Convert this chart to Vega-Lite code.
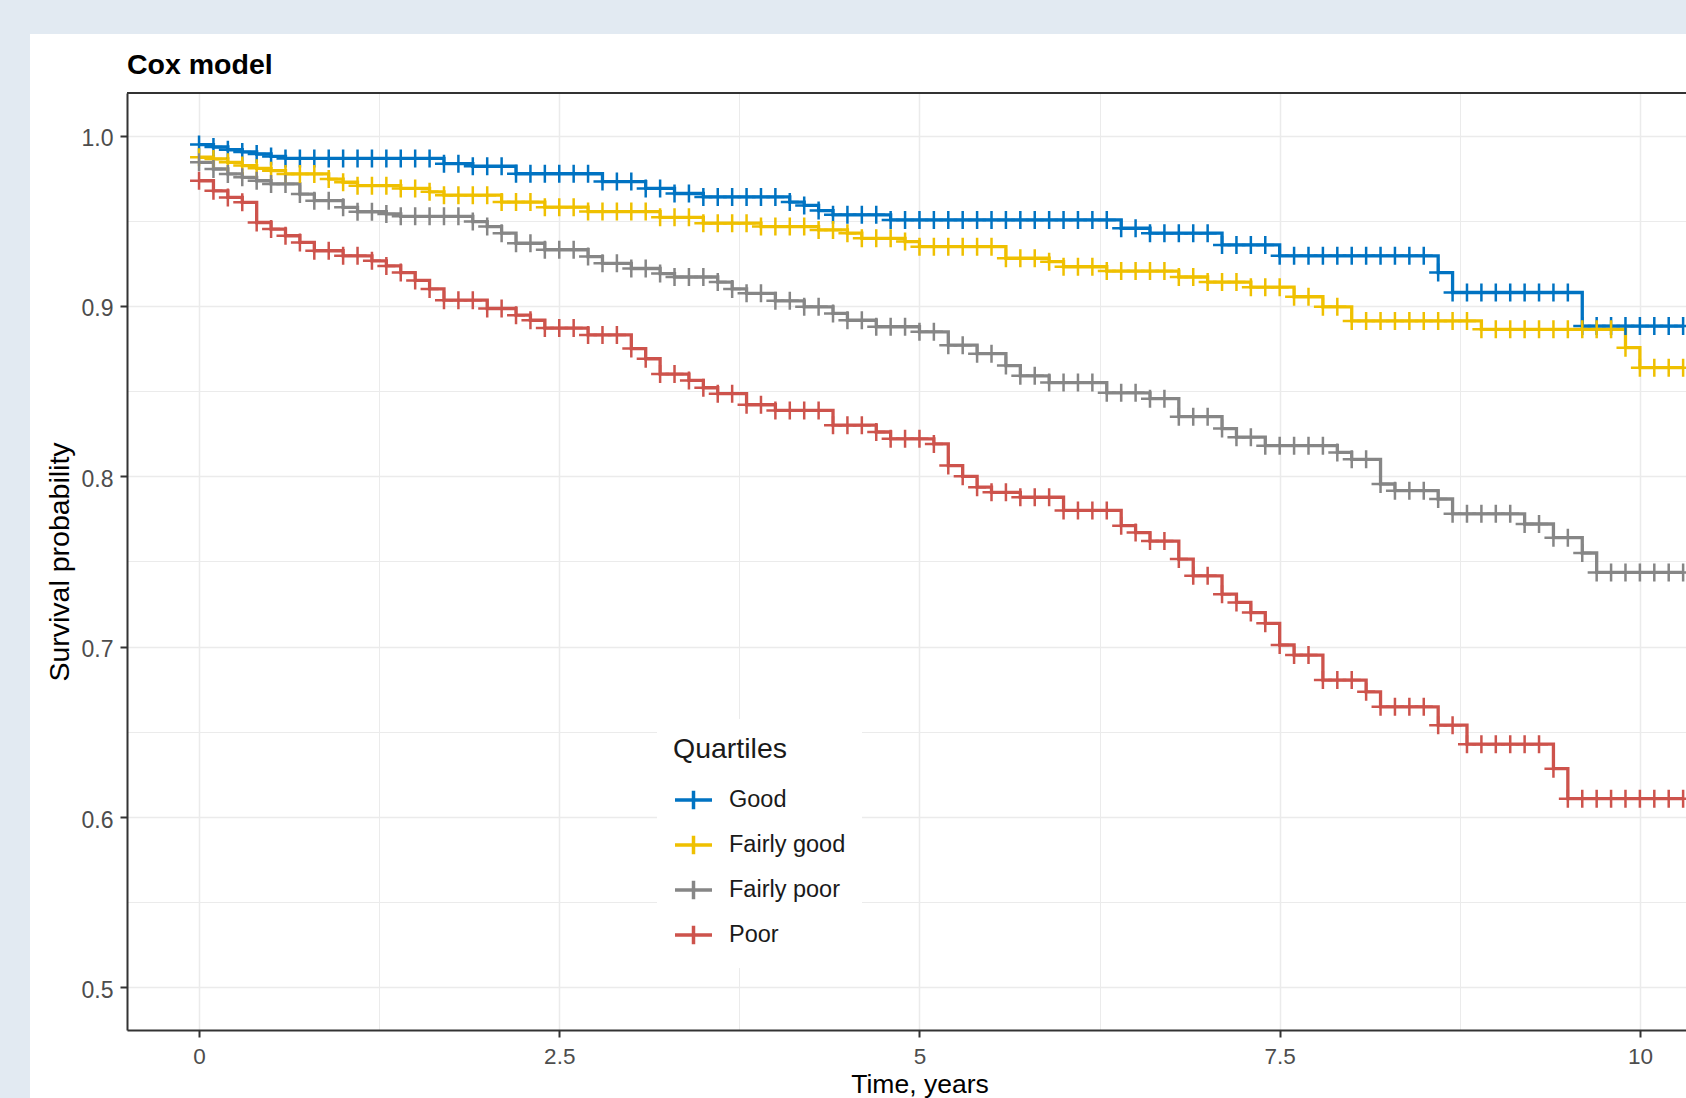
{
  "$schema": "https://vega.github.io/schema/vega-lite/v6.json",
  "width": 1559,
  "height": 937,
  "autosize": {"type": "none"},
  "padding": {"left": 127, "top": 93, "right": 0, "bottom": 68},
  "background": "white",
  "config": {"view": {"stroke": null}, "font": "Liberation Sans"},
  "title": {"text": "Cox model", "anchor": "start", "frame": "group", "fontSize": 28.5, "fontWeight": "bold", "color": "#000000", "baseline": "alphabetic", "offset": -107},
  "layer": [
    {
      "data": {"values": [{}]},
      "mark": {"type": "rect", "color": "#e2eaf2", "clip": false},
      "encoding": {
        "x": {"datum": -10, "type": "quantitative"},
        "x2": {"datum": -1.1732},
        "y": {"datum": 0.2, "type": "quantitative"},
        "y2": {"datum": 1.082}
      }
    },
    {
      "data": {"values": [{}]},
      "mark": {"type": "rect", "color": "#e2eaf2", "clip": false},
      "encoding": {
        "x": {"datum": -10, "type": "quantitative"},
        "x2": {"datum": 20},
        "y": {"datum": 1.0596, "type": "quantitative"},
        "y2": {"datum": 1.082}
      }
    },
    {
      "data": {"values": [{}]},
      "mark": {"type": "rule", "color": "#333333", "strokeWidth": 2},
      "encoding": {"y": {"datum": 1.025, "type": "quantitative"}}
    },
    {
      "data": {"values": [
        {"t":0,"Good":0.9947,"Fairly good":0.9873,"Fairly poor":0.9843,"Poor":0.9735},
        {"t":0.1,"Good":0.9933,"Fairly good":0.9863,"Fairly poor":0.9804,"Poor":0.9676},
        {"t":0.2,"Good":0.9917,"Fairly good":0.9843,"Fairly poor":0.9775,"Poor":0.9637},
        {"t":0.3,"Good":0.9904,"Fairly good":0.9824,"Fairly poor":0.9755,"Poor":0.9608},
        {"t":0.4,"Good":0.9892,"Fairly good":0.9808,"Fairly poor":0.9735,"Poor":0.949},
        {"t":0.5,"Good":0.9878,"Fairly good":0.9794,"Fairly poor":0.9716,"Poor":0.9451},
        {"t":0.6,"Good":0.9866,"Fairly good":0.9775,"Fairly poor":0.9716,"Poor":0.9412},
        {"t":0.7,"Good":0.9866,"Fairly good":0.9775,"Fairly poor":0.9657,"Poor":0.9373},
        {"t":0.8,"Good":0.9866,"Fairly good":0.9775,"Fairly poor":0.9618,"Poor":0.9324},
        {"t":0.9,"Good":0.9866,"Fairly good":0.9745,"Fairly poor":0.9618,"Poor":0.9324},
        {"t":1.0,"Good":0.9866,"Fairly good":0.9726,"Fairly poor":0.9579,"Poor":0.9294},
        {"t":1.1,"Good":0.9866,"Fairly good":0.9706,"Fairly poor":0.9553,"Poor":0.9294},
        {"t":1.2,"Good":0.9866,"Fairly good":0.9706,"Fairly poor":0.9553,"Poor":0.9265},
        {"t":1.3,"Good":0.9866,"Fairly good":0.9706,"Fairly poor":0.954,"Poor":0.9235},
        {"t":1.4,"Good":0.9866,"Fairly good":0.969,"Fairly poor":0.9526,"Poor":0.9196},
        {"t":1.5,"Good":0.9866,"Fairly good":0.969,"Fairly poor":0.9526,"Poor":0.915},
        {"t":1.6,"Good":0.9866,"Fairly good":0.967,"Fairly poor":0.9526,"Poor":0.91},
        {"t":1.7,"Good":0.9835,"Fairly good":0.965,"Fairly poor":0.9526,"Poor":0.9034},
        {"t":1.8,"Good":0.9835,"Fairly good":0.965,"Fairly poor":0.9526,"Poor":0.9034},
        {"t":1.9,"Good":0.982,"Fairly good":0.965,"Fairly poor":0.9495,"Poor":0.9034},
        {"t":2.0,"Good":0.982,"Fairly good":0.965,"Fairly poor":0.9466,"Poor":0.8985},
        {"t":2.1,"Good":0.982,"Fairly good":0.961,"Fairly poor":0.9427,"Poor":0.8985},
        {"t":2.2,"Good":0.9776,"Fairly good":0.961,"Fairly poor":0.9368,"Poor":0.8946},
        {"t":2.3,"Good":0.9776,"Fairly good":0.961,"Fairly poor":0.9368,"Poor":0.8916},
        {"t":2.4,"Good":0.9776,"Fairly good":0.958,"Fairly poor":0.933,"Poor":0.887},
        {"t":2.5,"Good":0.9776,"Fairly good":0.958,"Fairly poor":0.933,"Poor":0.887},
        {"t":2.6,"Good":0.9776,"Fairly good":0.958,"Fairly poor":0.933,"Poor":0.887},
        {"t":2.7,"Good":0.9776,"Fairly good":0.9554,"Fairly poor":0.929,"Poor":0.883},
        {"t":2.8,"Good":0.973,"Fairly good":0.9554,"Fairly poor":0.925,"Poor":0.883},
        {"t":2.9,"Good":0.973,"Fairly good":0.9554,"Fairly poor":0.925,"Poor":0.883},
        {"t":3.0,"Good":0.973,"Fairly good":0.9554,"Fairly poor":0.922,"Poor":0.875},
        {"t":3.1,"Good":0.969,"Fairly good":0.9554,"Fairly poor":0.922,"Poor":0.869},
        {"t":3.2,"Good":0.969,"Fairly good":0.952,"Fairly poor":0.919,"Poor":0.86},
        {"t":3.3,"Good":0.966,"Fairly good":0.952,"Fairly poor":0.917,"Poor":0.86},
        {"t":3.4,"Good":0.966,"Fairly good":0.952,"Fairly poor":0.917,"Poor":0.8563},
        {"t":3.5,"Good":0.964,"Fairly good":0.9486,"Fairly poor":0.917,"Poor":0.852},
        {"t":3.6,"Good":0.964,"Fairly good":0.9486,"Fairly poor":0.914,"Poor":0.8485},
        {"t":3.7,"Good":0.964,"Fairly good":0.9486,"Fairly poor":0.91,"Poor":0.8485},
        {"t":3.8,"Good":0.964,"Fairly good":0.9486,"Fairly poor":0.9074,"Poor":0.842},
        {"t":3.9,"Good":0.964,"Fairly good":0.9466,"Fairly poor":0.9074,"Poor":0.842},
        {"t":4.0,"Good":0.964,"Fairly good":0.9466,"Fairly poor":0.903,"Poor":0.8387},
        {"t":4.1,"Good":0.961,"Fairly good":0.9466,"Fairly poor":0.903,"Poor":0.8387},
        {"t":4.2,"Good":0.959,"Fairly good":0.9466,"Fairly poor":0.8995,"Poor":0.8387},
        {"t":4.3,"Good":0.956,"Fairly good":0.9446,"Fairly poor":0.8995,"Poor":0.8387},
        {"t":4.4,"Good":0.9535,"Fairly good":0.9446,"Fairly poor":0.8956,"Poor":0.83},
        {"t":4.5,"Good":0.9535,"Fairly good":0.9427,"Fairly poor":0.8916,"Poor":0.83},
        {"t":4.6,"Good":0.9535,"Fairly good":0.9397,"Fairly poor":0.8916,"Poor":0.83},
        {"t":4.7,"Good":0.9535,"Fairly good":0.9397,"Fairly poor":0.8878,"Poor":0.826},
        {"t":4.8,"Good":0.9505,"Fairly good":0.9397,"Fairly poor":0.8878,"Poor":0.822},
        {"t":4.9,"Good":0.9505,"Fairly good":0.9378,"Fairly poor":0.8878,"Poor":0.822},
        {"t":5.0,"Good":0.9505,"Fairly good":0.9348,"Fairly poor":0.8848,"Poor":0.822},
        {"t":5.1,"Good":0.9505,"Fairly good":0.9348,"Fairly poor":0.8848,"Poor":0.819},
        {"t":5.2,"Good":0.9505,"Fairly good":0.9348,"Fairly poor":0.877,"Poor":0.8063},
        {"t":5.3,"Good":0.9505,"Fairly good":0.9348,"Fairly poor":0.877,"Poor":0.8},
        {"t":5.4,"Good":0.9505,"Fairly good":0.9348,"Fairly poor":0.872,"Poor":0.7936},
        {"t":5.5,"Good":0.9505,"Fairly good":0.9348,"Fairly poor":0.872,"Poor":0.7906},
        {"t":5.6,"Good":0.9505,"Fairly good":0.928,"Fairly poor":0.865,"Poor":0.7906},
        {"t":5.7,"Good":0.9505,"Fairly good":0.928,"Fairly poor":0.859,"Poor":0.7877},
        {"t":5.8,"Good":0.9505,"Fairly good":0.928,"Fairly poor":0.859,"Poor":0.7877},
        {"t":5.9,"Good":0.9505,"Fairly good":0.926,"Fairly poor":0.855,"Poor":0.7877},
        {"t":6.0,"Good":0.9505,"Fairly good":0.923,"Fairly poor":0.855,"Poor":0.78},
        {"t":6.1,"Good":0.9505,"Fairly good":0.923,"Fairly poor":0.855,"Poor":0.78},
        {"t":6.2,"Good":0.9505,"Fairly good":0.923,"Fairly poor":0.855,"Poor":0.78},
        {"t":6.3,"Good":0.9505,"Fairly good":0.9205,"Fairly poor":0.849,"Poor":0.78},
        {"t":6.4,"Good":0.9456,"Fairly good":0.9205,"Fairly poor":0.849,"Poor":0.771},
        {"t":6.5,"Good":0.9456,"Fairly good":0.9205,"Fairly poor":0.849,"Poor":0.767},
        {"t":6.6,"Good":0.9427,"Fairly good":0.9205,"Fairly poor":0.8456,"Poor":0.762},
        {"t":6.7,"Good":0.9427,"Fairly good":0.9205,"Fairly poor":0.8456,"Poor":0.762},
        {"t":6.8,"Good":0.9427,"Fairly good":0.917,"Fairly poor":0.835,"Poor":0.7514},
        {"t":6.9,"Good":0.9427,"Fairly good":0.917,"Fairly poor":0.835,"Poor":0.7416},
        {"t":7.0,"Good":0.9427,"Fairly good":0.914,"Fairly poor":0.835,"Poor":0.7416},
        {"t":7.1,"Good":0.9358,"Fairly good":0.914,"Fairly poor":0.828,"Poor":0.7308},
        {"t":7.2,"Good":0.9358,"Fairly good":0.914,"Fairly poor":0.823,"Poor":0.726},
        {"t":7.3,"Good":0.9358,"Fairly good":0.911,"Fairly poor":0.823,"Poor":0.72},
        {"t":7.4,"Good":0.9358,"Fairly good":0.911,"Fairly poor":0.818,"Poor":0.7137},
        {"t":7.5,"Good":0.9294,"Fairly good":0.911,"Fairly poor":0.818,"Poor":0.701},
        {"t":7.6,"Good":0.9294,"Fairly good":0.9054,"Fairly poor":0.818,"Poor":0.6951},
        {"t":7.7,"Good":0.9294,"Fairly good":0.9054,"Fairly poor":0.818,"Poor":0.6951},
        {"t":7.8,"Good":0.9294,"Fairly good":0.8995,"Fairly poor":0.818,"Poor":0.6804},
        {"t":7.9,"Good":0.9294,"Fairly good":0.8995,"Fairly poor":0.814,"Poor":0.6804},
        {"t":8.0,"Good":0.9294,"Fairly good":0.8912,"Fairly poor":0.81,"Poor":0.6804},
        {"t":8.1,"Good":0.9294,"Fairly good":0.8912,"Fairly poor":0.81,"Poor":0.6735},
        {"t":8.2,"Good":0.9294,"Fairly good":0.8912,"Fairly poor":0.7955,"Poor":0.6647},
        {"t":8.3,"Good":0.9294,"Fairly good":0.8912,"Fairly poor":0.7916,"Poor":0.6647},
        {"t":8.4,"Good":0.9294,"Fairly good":0.8912,"Fairly poor":0.7916,"Poor":0.6647},
        {"t":8.5,"Good":0.9294,"Fairly good":0.8912,"Fairly poor":0.7916,"Poor":0.6647},
        {"t":8.6,"Good":0.9196,"Fairly good":0.8912,"Fairly poor":0.7867,"Poor":0.6539},
        {"t":8.7,"Good":0.9079,"Fairly good":0.8912,"Fairly poor":0.778,"Poor":0.6539},
        {"t":8.8,"Good":0.9079,"Fairly good":0.8912,"Fairly poor":0.778,"Poor":0.6428},
        {"t":8.9,"Good":0.9079,"Fairly good":0.8863,"Fairly poor":0.778,"Poor":0.6428},
        {"t":9.0,"Good":0.9079,"Fairly good":0.8863,"Fairly poor":0.778,"Poor":0.6428},
        {"t":9.1,"Good":0.9079,"Fairly good":0.8863,"Fairly poor":0.778,"Poor":0.6428},
        {"t":9.2,"Good":0.9079,"Fairly good":0.8863,"Fairly poor":0.772,"Poor":0.6428},
        {"t":9.3,"Good":0.9079,"Fairly good":0.8863,"Fairly poor":0.772,"Poor":0.6428},
        {"t":9.4,"Good":0.9079,"Fairly good":0.8863,"Fairly poor":0.764,"Poor":0.6284},
        {"t":9.5,"Good":0.9079,"Fairly good":0.8863,"Fairly poor":0.764,"Poor":0.6108},
        {"t":9.6,"Good":0.8882,"Fairly good":0.8863,"Fairly poor":0.755,"Poor":0.6108},
        {"t":9.7,"Good":0.8882,"Fairly good":0.8863,"Fairly poor":0.7436,"Poor":0.6108},
        {"t":9.8,"Good":0.8882,"Fairly good":0.8863,"Fairly poor":0.7436,"Poor":0.6108},
        {"t":9.9,"Good":0.8882,"Fairly good":0.8755,"Fairly poor":0.7436,"Poor":0.6108},
        {"t":10.0,"Good":0.8882,"Fairly good":0.8638,"Fairly poor":0.7436,"Poor":0.6108},
        {"t":10.1,"Good":0.8882,"Fairly good":0.8638,"Fairly poor":0.7436,"Poor":0.6108},
        {"t":10.2,"Good":0.8882,"Fairly good":0.8638,"Fairly poor":0.7436,"Poor":0.6108},
        {"t":10.3,"Good":0.8882,"Fairly good":0.8638,"Fairly poor":0.7436,"Poor":0.6108}
      ]},
      "transform": [{"fold": ["Good", "Fairly good", "Fairly poor", "Poor"], "as": ["q", "s"]}],
      "encoding": {
        "x": {
          "field": "t", "type": "quantitative",
          "scale": {"domain": [-0.5, 10.32], "nice": false, "zero": false},
          "axis": {
            "title": "Time, years",
            "values": [0, 1.25, 2.5, 3.75, 5, 6.25, 7.5, 8.75, 10],
            "labelExpr": "round(datum.value/1.25)%2==1 ? '' : format(datum.value,'~g')",
            "labelFontSize": 22.5, "labelColor": "#4d4d4d", "labelPadding": 8.5,
            "labelFlush": false, "labelOverlap": false,
            "tickSize": 7, "tickWidth": 2, "tickColor": "#333333",
            "tickOpacity": {"condition": {"test": "round(datum.value/1.25)%2==1", "value": 0}, "value": 1},
            "domainColor": "#333333", "domainWidth": 2,
            "grid": true, "gridColor": "#ebebeb",
            "gridWidth": {"condition": {"test": "round(datum.value/1.25)%2==1", "value": 1}, "value": 1.5},
            "titleFontSize": 26.5, "titleFontWeight": "normal", "titleColor": "#000000",
            "titleX": 792.5, "titleY": 62.3, "titleBaseline": "alphabetic", "titleAlign": "center"
          }
        },
        "y": {
          "field": "s", "type": "quantitative",
          "scale": {"domain": [0.475, 1.025], "nice": false, "zero": false},
          "axis": {
            "title": "Survival probability",
            "values": [0.5, 0.55, 0.6, 0.65, 0.7, 0.75, 0.8, 0.85, 0.9, 0.95, 1.0],
            "labelExpr": "round(datum.value*20)%2==1 ? '' : format(datum.value,'.1f')",
            "labelFontSize": 23, "labelColor": "#4d4d4d", "labelPadding": 7, "labelOffset": 3,
            "labelFlush": false, "labelOverlap": false,
            "tickSize": 7, "tickWidth": 2, "tickColor": "#333333",
            "tickOpacity": {"condition": {"test": "round(datum.value*20)%2==1", "value": 0}, "value": 1},
            "domainColor": "#333333", "domainWidth": 2,
            "grid": true, "gridColor": "#ebebeb",
            "gridWidth": {"condition": {"test": "round(datum.value*20)%2==1", "value": 1}, "value": 1.5},
            "titleFontSize": 28.5, "titleFontWeight": "normal", "titleColor": "#000000",
            "titleX": -59, "titleY": 468.5, "titleAngle": 270, "titleBaseline": "alphabetic", "titleAlign": "center"
          }
        },
        "color": {
          "field": "q", "type": "nominal", "title": "Quartiles",
          "scale": {"domain": ["Good", "Fairly good", "Fairly poor", "Poor"], "range": ["#0073C2", "#EFC000", "#868686", "#CD534C"]},
          "legend": {
            "orient": "none", "legendX": 530, "legendY": 626,
            "fillColor": "white", "padding": 16, "titlePadding": 16, "rowPadding": 8,
            "symbolType": "M-1,0H1M0,-0.5V0.5", "symbolSize": 1369, "symbolStrokeWidth": 3.5,
            "labelFontSize": 23.5, "labelOffset": 15, "labelColor": "#1a1a1a",
            "titleFontSize": 28.5, "titleFontWeight": "normal", "titleColor": "#1a1a1a"
          }
        }
      },
      "layer": [
        {"mark": {"type": "line", "interpolate": "step-after", "strokeWidth": 3.3, "clip": true}},
        {"mark": {"type": "point", "shape": "M-1,0H1M0,-1V1", "filled": false, "size": 324, "strokeWidth": 2.5, "opacity": 1, "clip": true}}
      ]
    }
  ]
}
